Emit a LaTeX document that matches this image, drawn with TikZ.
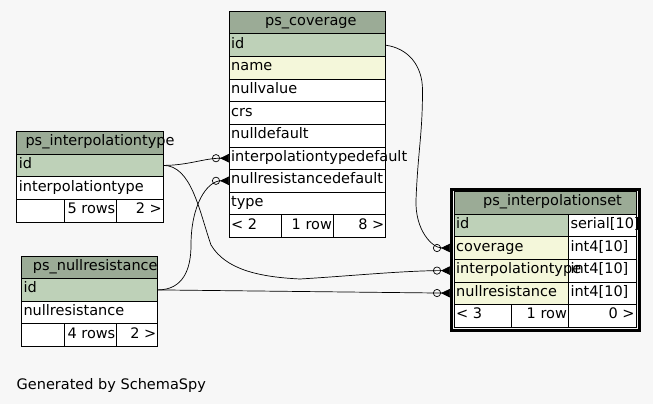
\documentclass[tikz,border=0pt]{standalone}
\usepackage{fontspec}
\setmainfont{DejaVu Sans}
\usetikzlibrary{arrows.meta}
\definecolor{bggrey}{HTML}{F7F7F7}
\definecolor{hdrgreen}{HTML}{9BAB96}
\definecolor{pkgreen}{HTML}{BED1B8}
\definecolor{fkyellow}{HTML}{F4F7DA}
\tikzset{
  cell/.style={draw, line width=0.8pt, anchor=north west, minimum height=22.6pt, inner sep=0pt, outer sep=0pt},
  hdr/.style={cell, fill=hdrgreen},
  pk/.style={cell, fill=pkgreen},
  col/.style={cell, fill=white},
  txt/.style={anchor=west, inner sep=2pt, text height=9pt, text depth=3pt},
  rtxt/.style={anchor=east, inner sep=1.2pt, text height=9pt, text depth=3pt},
  htxt/.style={anchor=center, inner sep=0pt, text height=9pt, text depth=3pt},
  fkline/.style={line width=0.7pt, -{Circle[open,length=8pt,width=8pt] Triangle[reversed,length=9pt,width=8.5pt]}}
}
\begin{document}
\begin{tikzpicture}[x=1pt, y=-1pt, font=\fontsize{14.5}{17}\selectfont]
\fill[bggrey] (0,0) rectangle (653,404);
\useasboundingbox (0,0) rectangle (653,404);
% ps_coverage
\node[hdr, minimum width=156.7pt, label={[htxt, xshift=3.5pt]center:ps\_coverage}] (cov) at (229,11.3) {};
\node[pk, minimum width=156.7pt, label={[txt]west:id}] (cov-id) at (229,33.9) {};
\node[cell, fill=fkyellow, minimum width=156.7pt, label={[txt]west:name}] (cov-name) at (229,56.5) {};
\foreach \fld [count=\i from 3] in {nullvalue,crs,nulldefault,interpolationtypedefault,nullresistancedefault,type}
  \node[col, minimum width=156.7pt, label={[txt]west:\fld}] (cov-\fld) at (229,{11.3+22.6*\i}) {};
\node[col, minimum width=52.3pt, label={[txt]west:< 2}] (cov-prev) at (229,214.7) {};
\node[col, minimum width=52pt, label={[rtxt]east:1 row}] (cov-rows) at (cov-prev.north east) {};
\node[col, minimum width=52.4pt, label={[rtxt]east:8 >}] (cov-next) at (cov-rows.north east) {};
% ps_interpolationtype
\node[hdr, minimum width=146.6pt, label={[htxt, xshift=10pt]center:ps\_interpolationtype}] (it) at (16.7,131.5) {};
\node[pk, minimum width=146.6pt, label={[txt]west:id}] (it-id) at (16.7,154.1) {};
\node[col, minimum width=146.6pt, label={[txt]west:interpolationtype}] (it-type) at (16.7,176.7) {};
\node[col, minimum width=48pt] (it-prev) at (16.7,199.3) {};
\node[col, minimum width=52pt, label={[rtxt]east:5 rows}] (it-rows) at (it-prev.north east) {};
\node[col, minimum width=46.6pt, label={[rtxt]east:2 >}] (it-next) at (it-rows.north east) {};
% ps_nullresistance
\node[hdr, minimum width=136.4pt, label={[htxt, xshift=5.7pt]center:ps\_nullresistance}] (nr) at (21.3,256) {};
\node[pk, minimum width=136.4pt, label={[txt]west:id}] (nr-id) at (21.3,278.6) {};
\node[col, minimum width=136.4pt, label={[txt]west:nullresistance}] (nr-res) at (21.3,301.2) {};
\node[col, minimum width=43.4pt] (nr-prev) at (21.3,323.8) {};
\node[col, minimum width=52pt, label={[rtxt]east:4 rows}] (nr-rows) at (nr-prev.north east) {};
\node[col, minimum width=41pt, label={[rtxt]east:2 >}] (nr-next) at (nr-rows.north east) {};
% ps_interpolationset
\node[hdr, minimum width=182pt, label={[htxt, xshift=7.5pt]center:ps\_interpolationset}] (set) at (454,191.5) {};
\foreach \fld/\clr/\ty [count=\i] in {id/pkgreen/serial[10],coverage/fkyellow/int4[10],interpolationtype/fkyellow/int4[10],nullresistance/fkyellow/int4[10]} {
  \node[col, minimum width=67.7pt, label={[txt]west:\ty}] at (568.3,{191.5+22.6*\i}) {};
  \node[cell, fill=\clr, minimum width=114.3pt, label={[txt]west:\fld}] (set-\fld) at (454,{191.5+22.6*\i}) {};
}
\node[col, minimum width=57.7pt, label={[txt]west:< 3}] (set-prev) at (454,304.5) {};
\node[col, minimum width=56.6pt, label={[rtxt]east:1 row}] (set-rows) at (set-prev.north east) {};
\node[col, minimum width=67.7pt, label={[rtxt]east:0 >}] (set-next) at (set-rows.north east) {};
\draw[line width=3pt] (451.5,189.5) rectangle (639,330.2);
% connectors
\draw[fkline, shorten >=4pt] (cov-id.east) .. controls +(22,3) and +(0,-25) .. (422.5,90) .. controls +(0,45) and +(2,-50) .. (416,200) .. controls +(-1,30) and +(-22,0) .. (set-coverage.west);
\draw[fkline] (it-id.east) .. controls +(25,0) and +(-25,0) .. (cov-interpolationtypedefault.west);
\draw[fkline] (nr-id.east) .. controls +(25,0) and +(0,25) .. (191,245) .. controls +(0,-40) and +(-22,0) .. (cov-nullresistancedefault.west);
\draw[fkline, shorten >=4pt] (it-id.east) .. controls +(28,0) and +(-12,-35) .. (211,245) .. controls +(15,25) and +(-40,-2) .. (300,279) .. controls +(50,-3) and +(-50,0) .. (set-interpolationtype.west);
\draw[fkline, shorten >=4pt] (nr-id.east) -- (set-nullresistance.west);
\node[anchor=base west, inner sep=0pt] (gen) at (16.5,389.3) {Generated by SchemaSpy};
\end{tikzpicture}
\end{document}
